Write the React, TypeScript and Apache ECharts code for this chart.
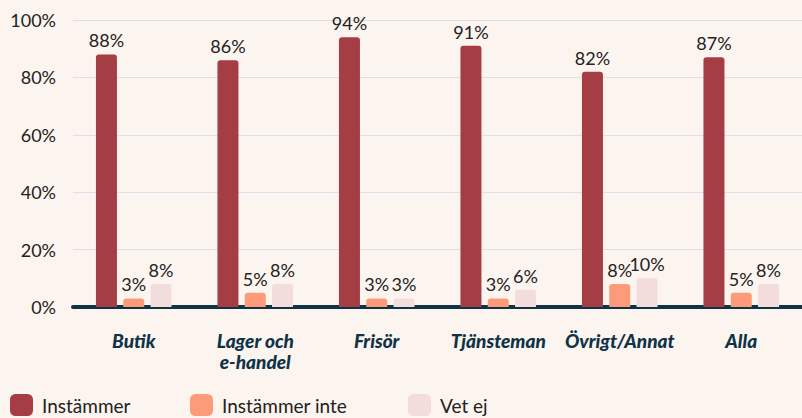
import React, { useEffect, useRef } from "react";
import * as echarts from "echarts";

const categories = ["Butik", "Lager och\ne-handel", "Frisör", "Tjänsteman", "Övrigt/Annat", "Alla"];
const instammer = [88, 86, 94, 91, 82, 87];
const instammerInte = [3, 5, 3, 3, 8, 5];
const vetEj = [8, 8, 3, 6, 10, 8];
const seriesNames = ["Instämmer", "Instämmer inte", "Vet ej"];
const colors = ["#a53d45", "#fc9a79", "#f3dcdc"];

export default function App() {
  const ref = useRef<HTMLDivElement>(null);
  useEffect(() => {
    document.body.style.margin = "0";
    document.body.style.background = "#fcf4ef";
    document.body.style.overflow = "hidden";
    const chart = echarts.init(ref.current!, undefined, { renderer: "svg" });
    const font = "Lato, 'Noto Sans', sans-serif";
    const label = {
      show: true,
      position: "top" as const,
      distance: 5,
      formatter: "{c}%",
      color: "#222",
      fontSize: 18,
      fontFamily: font,
    };
    const datas = [instammer, instammerInte, vetEj];
    const legendLefts = [10, 190, 408];
    chart.setOption({
      animation: false,
      backgroundColor: "#fcf4ef",
      textStyle: { fontFamily: font },
      grid: { left: 73, right: -9, top: 20, bottom: 111, containLabel: false },
      legend: seriesNames.map((n, i) => ({
        left: legendLefts[i],
        top: 394,
        padding: 0,
        icon: "roundRect",
        itemWidth: 23,
        itemHeight: 22,
        textStyle: { fontSize: 19, color: "#222", fontFamily: font, padding: [0, 0, 0, 4] },
        data: [n],
      })),
      xAxis: {
        type: "category",
        data: categories,
        axisLine: { show: true, lineStyle: { color: "#0e3347", width: 4 } },
        axisTick: { show: false },
        axisLabel: {
          margin: 23,
          color: "#0e3347",
          fontSize: 19,
          fontWeight: 900,
          fontStyle: "italic",
          fontFamily: font,
          lineHeight: 21,
          interval: 0,
        },
      },
      yAxis: {
        type: "value",
        min: 0,
        max: 100,
        interval: 20,
        axisLabel: { formatter: "{value}%", color: "#222", fontSize: 18, margin: 17, fontFamily: font },
        splitLine: { lineStyle: { color: "#dde0ea", width: 1 } },
        axisLine: { show: false },
        axisTick: { show: false },
      },
      series: seriesNames.map((name, i) => ({
        name,
        type: "bar",
        data: datas[i],
        barWidth: 21,
        barGap: "30%",
        itemStyle: { color: colors[i], borderRadius: [3, 3, 0, 0] },
        label,
      })),
    });
    return () => chart.dispose();
  }, []);
  return <div ref={ref} style={{ width: 802, height: 418 }} />;
}
